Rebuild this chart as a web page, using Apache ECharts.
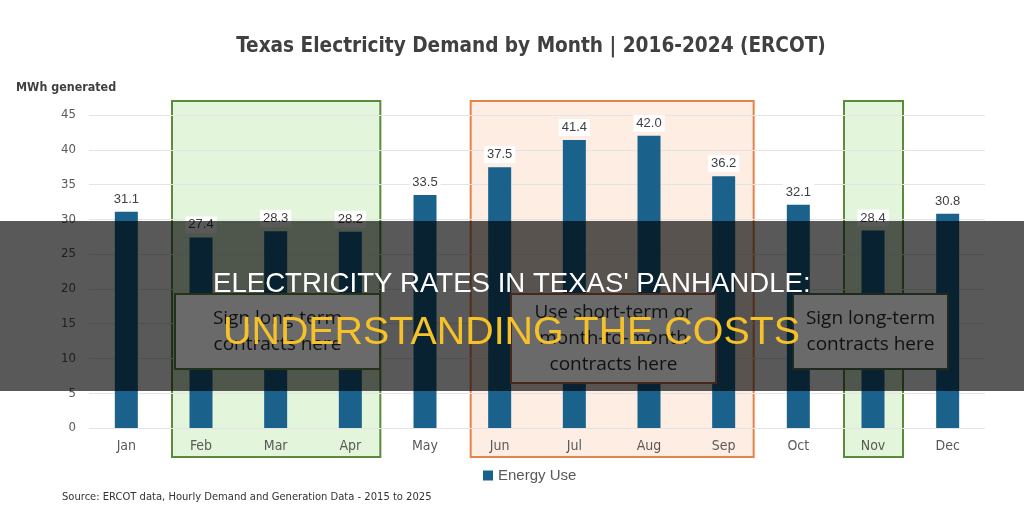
<!DOCTYPE html>
<html lang="en">
<head>
<meta charset="UTF-8">
<title>Texas Electricity Demand by Month</title>
<script src="https://cdn.jsdelivr.net/npm/echarts@6/dist/echarts.min.js"></script>
<style>
    *{margin:0;padding:0;}
    html,body{width:100%;height:100%;overflow:hidden;background:#fff;}
    .container{width:1024px;height:528px;}
</style>
</head>
<body>
<div class="container"></div>
<script>
    // data
    const months = ['Jan','Feb','Mar','Apr','May','Jun','Jul','Aug','Sep','Oct','Nov','Dec'];
    const energyUse = [31.1, 27.4, 28.3, 28.2, 33.5, 37.5, 41.4, 42.0, 36.2, 32.1, 28.4, 30.8];
    const yMin = 0, yMax = 45, yStep = 5;

    // shaded month ranges
    const zoneFrom = ['Feb', 'Jun', 'Nov'];
    const zoneTo   = ['Apr', 'Sep', 'Nov'];
    const zoneKind = ['long', 'short', 'long'];

    // note boxes and banner text
    const noteTexts = ['Sign long-term\ncontracts here', 'Use short-term or\nmonth-to-month\ncontracts here', 'Sign long-term\ncontracts here'];
    const bannerLine1 = "ELECTRICITY RATES IN TEXAS' PANHANDLE:";
    const bannerLine2 = 'UNDERSTANDING THE COSTS';

    const narrow = "'DejaVu Sans Condensed','DejaVu Sans',sans-serif";

    let container = document.querySelector('.container');
    let chart = echarts.init(container);

    let option = {
        backgroundColor: '#fff',
        animation: false,
        title: [{
            text: 'Texas Electricity Demand by Month | 2016-2024 (ERCOT)',
            left: 526, top: 31, textAlign: 'center',
            textStyle: {fontSize: 20.6, fontWeight: 'bold', color: '#404040', fontFamily: narrow}
        }, {
            text: 'MWh generated',
            left: 11, top: 77,
            textStyle: {fontSize: 12.4, fontWeight: 'bold', color: '#404040', fontFamily: narrow}
        }, {
            text: 'Source: ERCOT data, Hourly Demand and Generation Data - 2015 to 2025',
            left: 57, top: 487,
            textStyle: {fontSize: 11.1, fontWeight: 'normal', color: '#333', fontFamily: narrow}
        }],
        grid: {left: 89, right: 39, top: 115, bottom: 100},
        legend: {
            left: 478, top: 463,
            icon: 'rect', itemWidth: 10, itemHeight: 10,
            textStyle: {fontSize: 15, color: '#595959', fontFamily: 'Liberation Sans'}
        },
        xAxis: {
            type: 'category',
            data: months,
            axisLine: {show: false},
            axisTick: {show: false},
            axisLabel: {color: '#595959', fontSize: 14, margin: 11, fontFamily: narrow}
        },
        yAxis: {
            type: 'value',
            min: yMin, max: yMax, interval: yStep,
            axisLabel: {color: '#595959', fontSize: 13, margin: 13, fontFamily: narrow},
            splitLine: {lineStyle: {color: '#e4e4e4'}}
        },
        series: [{
            name: 'Energy Use',
            type: 'bar',
            data: energyUse,
            barWidth: 23,
            itemStyle: {color: '#1a628c'},
            label: {
                show: true,
                position: 'top',
                distance: 4,
                color: '#404040',
                fontSize: 13,
                fontFamily: 'Liberation Sans',
                backgroundColor: '#fff',
                padding: [2, 3],
                formatter: p => p.value.toFixed(1)
            }
        }]
    };

    chart.setOption(option);

    // shaded zones, placed from the axes
    let xOf = m => chart.convertToPixel({xAxisIndex: 0}, m);
    let yTop = chart.convertToPixel({yAxisIndex: 0}, 47);
    let yBase = chart.convertToPixel({yAxisIndex: 0}, 0);
    let graphics = [];

    zoneFrom.forEach((from, i) => {
        let x0 = xOf(from) - 29;
        let x1 = xOf(zoneTo[i]) + 30;
        let long = zoneKind[i] === 'long';
        graphics.push({
            type: 'rect', z: -1,
            shape: {x: x0, y: yTop, width: x1 - x0, height: yBase + 29 - yTop},
            style: {
                fill: long ? '#e3f5da' : '#fdede3',
                stroke: long ? '#5b8a3c' : '#e4834a',
                lineWidth: 2
            }
        });
    });

    // dark banner over the chart
    graphics.push({
        type: 'rect', z: 100,
        shape: {x: 0, y: 221, width: 1024, height: 170},
        style: {fill: 'rgba(0,0,0,0.65)'}
    });

    let noteBoxes = [
        {x: 175, y: 294, w: 205, h: 75, stroke: '#22331a'},
        {x: 511, y: 294, w: 205, h: 89, stroke: '#45281a'},
        {x: 793, y: 294, w: 155, h: 75, stroke: '#1f2a1c'}
    ];
    noteBoxes.forEach((b, i) => {
        graphics.push({
            type: 'rect', z: 101,
            shape: {x: b.x, y: b.y, width: b.w, height: b.h},
            style: {fill: '#6a6a6a', stroke: b.stroke, lineWidth: 2}
        });
        graphics.push({
            type: 'text', z: 102,
            x: b.x + b.w / 2, y: b.y + b.h / 2,
            style: {
                text: noteTexts[i], fill: '#111',
                fontSize: 19, fontFamily: "'Open Sans',sans-serif", lineHeight: 26,
                textAlign: 'center', textVerticalAlign: 'middle'
            }
        });
    });

    graphics.push({
        type: 'text', z: 103, x: 213, y: 284,
        style: {
            text: bannerLine1, fill: '#fff',
            fontSize: 27.6, fontFamily: "'Liberation Sans',sans-serif",
            textAlign: 'left', textVerticalAlign: 'middle'
        }
    });
    graphics.push({
        type: 'text', z: 103, x: 223, y: 333,
        style: {
            text: bannerLine2, fill: '#f6c228',
            fontSize: 39.4, fontFamily: "'Liberation Sans',sans-serif",
            textAlign: 'left', textVerticalAlign: 'middle'
        }
    });

    chart.setOption({graphic: graphics});
</script>
</body>
</html>
